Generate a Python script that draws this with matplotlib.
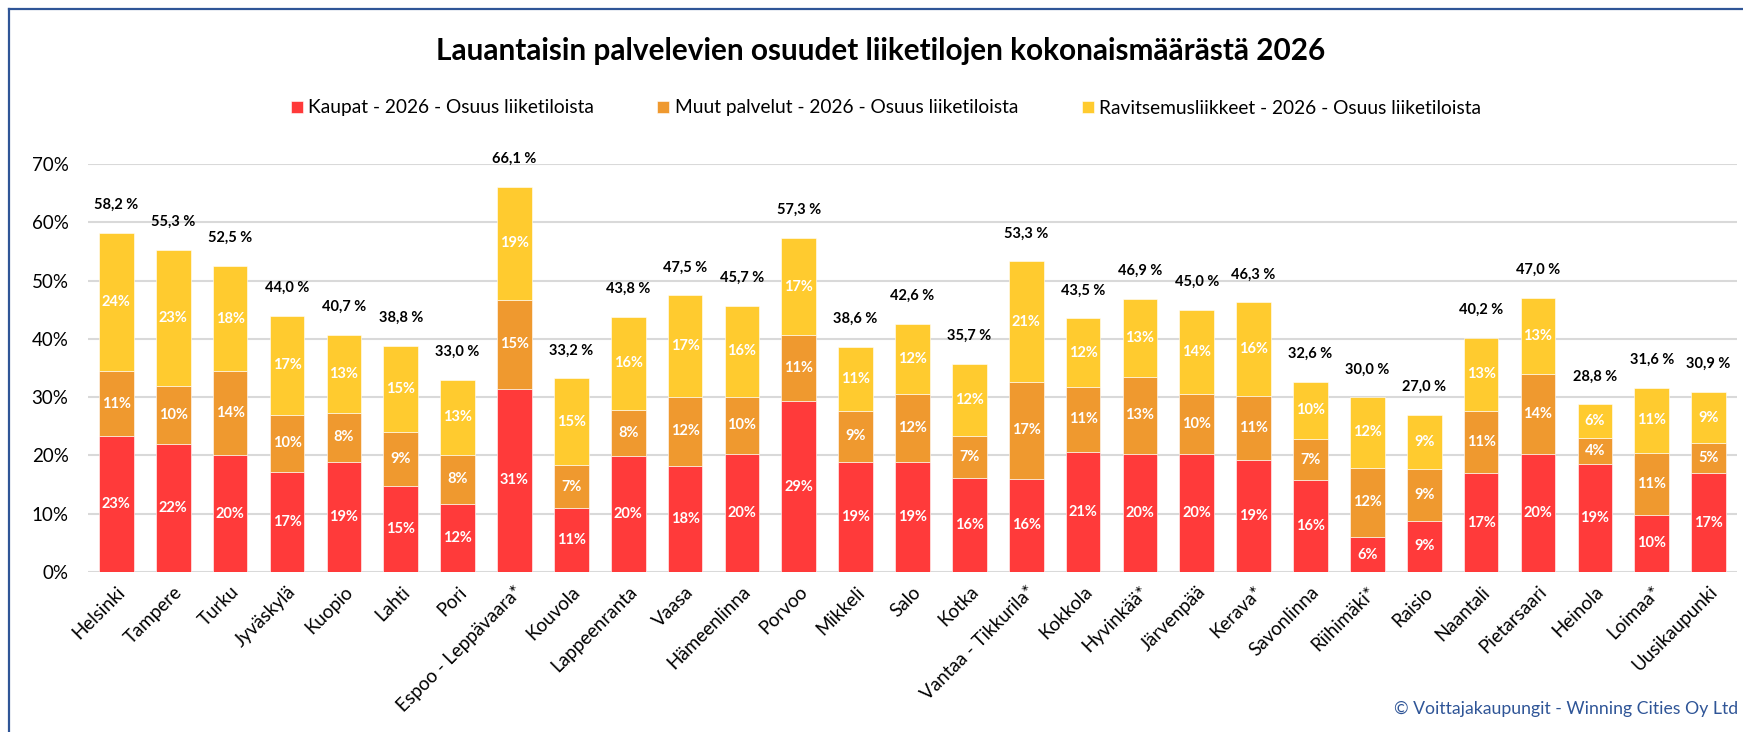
import matplotlib.pyplot as plt
from matplotlib.lines import Line2D
import numpy as np

plt.rcParams['font.family'] = ['Lato', 'DejaVu Sans']

cities = ['Helsinki', 'Tampere', 'Turku', 'Jyväskylä', 'Kuopio', 'Lahti', 'Pori',
          'Espoo - Leppävaara*', 'Kouvola', 'Lappeenranta', 'Vaasa', 'Hämeenlinna',
          'Porvoo', 'Mikkeli', 'Salo', 'Kotka', 'Vantaa - Tikkurila*', 'Kokkola',
          'Hyvinkää*', 'Järvenpää', 'Kerava*', 'Savonlinna', 'Riihimäki*', 'Raisio',
          'Naantali', 'Pietarsaari', 'Heinola', 'Loimaa*', 'Uusikaupunki']

# osuudet prosentteina
kaupat = [23.3, 21.9, 20.0, 17.2, 18.9, 14.8, 11.7, 31.4, 11.0, 19.9, 18.2, 20.2,
          29.3, 18.9, 18.9, 16.1, 16.0, 20.6, 20.3, 20.2, 19.3, 15.7, 6.0, 8.8,
          16.9, 20.3, 18.6, 9.8, 16.9]
muut = [11.1, 10.0, 14.4, 9.8, 8.4, 9.3, 8.4, 15.3, 7.3, 7.9, 11.9, 9.9,
        11.3, 8.8, 11.7, 7.2, 16.6, 11.2, 13.2, 10.4, 10.9, 7.2, 11.9, 8.8,
        10.7, 13.6, 4.4, 10.6, 5.2]
ravintolat = [23.8, 23.4, 18.1, 17.0, 13.4, 14.7, 12.9, 19.4, 14.9, 16.0, 17.4, 15.6,
              16.7, 10.9, 12.0, 12.4, 20.7, 11.7, 13.4, 14.4, 16.1, 9.7, 12.1, 9.4,
              12.6, 13.1, 5.8, 11.2, 8.8]

series = ['Kaupat - 2026 - Osuus liiketiloista',
          'Muut palvelut - 2026 - Osuus liiketiloista',
          'Ravitsemusliikkeet - 2026 - Osuus liiketiloista']
colors = ['#FF3A3A', '#EF992F', '#FFCB2F']

W, H = 1743, 732
fig = plt.figure(figsize=(W / 100, H / 100), dpi=100)
ax = fig.add_axes([88 / W, (H - 572) / H, 1649 / W, 408 / H])

x = np.arange(len(cities))
bottom = np.zeros(len(cities))
for vals, name, col in zip([kaupat, muut, ravintolat], series, colors):
    vals = np.array(vals)
    ax.bar(x, vals, 0.61, bottom=bottom, color=col, label=name,
           edgecolor='#FFFFFF', linewidth=0.4, zorder=3)
    for xi, b, v in zip(x, bottom, vals):
        ax.text(xi, b + v / 2, f'{v:.0f}%', ha='center', va='center',
                color='white', fontsize=10.5, fontweight='bold', zorder=4)
    bottom = bottom + vals

# summat pylväiden päälle
for xi, t in zip(x, bottom):
    ax.annotate(f'{t:.1f} %'.replace('.', ','), (xi, t), xytext=(0, 20),
                textcoords='offset points', ha='center', va='center',
                fontsize=10.5, fontweight='bold', color='black')

ax.set_xlim(-0.5, len(cities) - 0.5)
ax.set_ylim(0, 70)
ax.set_yticks(range(0, 71, 10))
ax.set_yticklabels([f'{v}%' for v in range(0, 71, 10)], fontsize=13.5)
ax.set_xticks(x)
ax.set_xticklabels(cities, rotation=45, ha='right', rotation_mode='anchor', fontsize=13.5)
ax.tick_params(axis='x', length=0, pad=8)
ax.tick_params(axis='y', length=0, pad=14)
ax.grid(axis='y', color='#D9D9D9', linewidth=1.5, zorder=0)
for s in ax.spines.values():
    s.set_visible(False)

fig.text(881 / W, 1 - 51 / H, 'Lauantaisin palvelevien osuudet liiketilojen kokonaismäärästä 2026',
         ha='center', va='center', fontsize=21.4, fontweight='bold')
ax.legend(loc='center', bbox_to_anchor=(886 / W, 1 - 108 / H), bbox_transform=fig.transFigure,
          ncol=3, frameon=False, fontsize=13.75, handlelength=0.63, handleheight=0.63,
          handletextpad=0.3, columnspacing=3.3)
fig.text(1738 / W, 1 - 709 / H, '© Voittajakaupungit - Winning Cities Oy Ltd',
         ha='right', va='center', fontsize=12.7, color='#2F5597')

# kehys
fig.add_artist(Line2D([8.5 / W, 1], [1 - 8.5 / H] * 2, color='#2F5597', lw=1.6))
fig.add_artist(Line2D([8.5 / W] * 2, [0, 1 - 8.5 / H], color='#2F5597', lw=1.6))

fig.savefig('out.png', dpi=100)
